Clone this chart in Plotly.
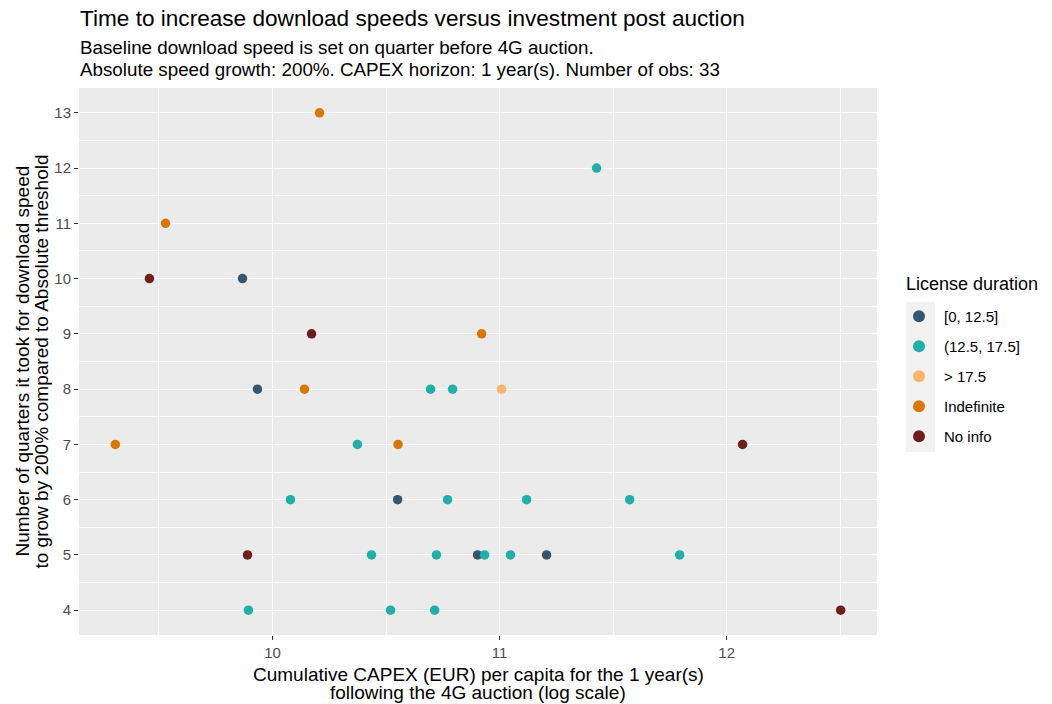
import plotly.graph_objects as go

# ---- data (log CAPEX per capita, quarters to reach threshold) ----
groups = ["[0, 12.5]", "(12.5, 17.5]", "> 17.5", "Indefinite", "No info"]
colors = ["#36566F", "#21AFAA", "#F8B56B", "#D97700", "#6E1F1B"]

x_g1 = [9.868, 9.934, 10.551, 10.903, 11.207]
y_g1 = [10, 8, 6, 5, 5]

x_g2 = [9.894, 10.079, 10.374, 10.436, 10.520, 10.696, 10.714, 10.722,
        10.771, 10.793, 10.934, 11.048, 11.119, 11.427, 11.573, 11.793]
y_g2 = [4, 6, 7, 5, 4, 8, 4, 5, 6, 8, 5, 5, 6, 12, 6, 5]

x_g3 = [11.009]
y_g3 = [8]

x_g4 = [9.308, 9.529, 10.141, 10.207, 10.553, 10.921]
y_g4 = [7, 11, 8, 13, 7, 9]

x_g5 = [9.458, 9.890, 10.172, 12.070, 12.502]
y_g5 = [10, 5, 9, 7, 4]

xs = [x_g1, x_g2, x_g3, x_g4, x_g5]
ys = [y_g1, y_g2, y_g3, y_g4, y_g5]

x_ticks = [10, 11, 12]
y_ticks = [4, 5, 6, 7, 8, 9, 10, 11, 12, 13]

FONT = "Liberation Sans, Arial, Helvetica, sans-serif"

fig = go.Figure()
for name, col, xv, yv in zip(groups, colors, xs, ys):
    fig.add_trace(go.Scatter(
        x=xv, y=yv, mode="markers", name=name, legendgroup=name,
        marker=dict(color=col, size=9.5, line=dict(width=0)),
    ))

# page body has an 8px margin -> figure origin sits at (8, 8) on screen
OFF = 8
W, H = 1044, 696
PL, PR, PT, PB = 79, 877, 88, 635       # panel edges in screen pixels
L, T = PL - OFF, PT - OFF
R, B = W - (PR - OFF), H - (PB - OFF)
pw, ph = PR - PL, PB - PT

def sx(p):   # screen x pixel -> paper
    return (p - PL) / pw

def sy(p):   # screen y pixel -> paper
    return (PB - p) / ph

axis_common = dict(
    showgrid=True, gridcolor="white", gridwidth=1.1,
    zeroline=False, showline=False,
    ticks="outside", ticklen=4, tickwidth=1, tickcolor="#333333",
    tickfont=dict(family=FONT, size=15, color="#4D4D4D"),
    minor=dict(showgrid=True, gridcolor="white", gridwidth=0.5, ticks=""),
)

fig.update_xaxes(range=[9.148, 12.662], tickvals=x_ticks,
                 ticktext=[str(v) for v in x_ticks],
                 minor_dtick=0.5, minor_tick0=0, **axis_common)
fig.update_yaxes(range=[3.55, 13.45], tickvals=y_ticks,
                 ticktext=[str(v) for v in y_ticks],
                 minor_dtick=0.5, minor_tick0=0.5, **axis_common)

annotations = [
    dict(text="Time to increase download speeds versus investment post auction",
         x=sx(78), y=sy(19), xanchor="left", yanchor="middle",
         font=dict(family=FONT, size=22.6, color="black")),
    dict(text="Baseline download speed is set on quarter before 4G auction.",
         x=sx(78), y=sy(48), xanchor="left", yanchor="middle",
         font=dict(family=FONT, size=18.8, color="black")),
    dict(text="Absolute speed growth: 200%. CAPEX horizon: 1 year(s). Number of obs: 33",
         x=sx(78), y=sy(69), xanchor="left", yanchor="middle",
         font=dict(family=FONT, size=18.8, color="black")),
    dict(text="Cumulative CAPEX (EUR) per capita for the 1 year(s)",
         x=0.5, y=sy(674), xanchor="center", yanchor="middle",
         font=dict(family=FONT, size=19, color="black")),
    dict(text="following the 4G auction (log scale)",
         x=0.5, y=sy(692), xanchor="center", yanchor="middle",
         font=dict(family=FONT, size=19, color="black")),
    dict(text="Number of quarters it took for download speed",
         x=sx(22), y=0.5, xanchor="center", yanchor="middle", textangle=-90,
         font=dict(family=FONT, size=19, color="black")),
    dict(text="to grow by 200% compared to Absolute threshold",
         x=sx(41), y=0.5, xanchor="center", yanchor="middle", textangle=-90,
         font=dict(family=FONT, size=19, color="black")),
    dict(text="License duration",
         x=sx(904), y=sy(284), xanchor="left", yanchor="middle",
         font=dict(family=FONT, size=18, color="black")),
]
for a in annotations:
    a.update(xref="paper", yref="paper", showarrow=False)

fig.update_layout(
    width=W, height=H,
    margin=dict(l=L, r=R, t=T, b=B, pad=0),
    paper_bgcolor="white", plot_bgcolor="#EBEBEB",
    annotations=annotations,
    shapes=[dict(type="rect", xref="paper", yref="paper",
                 x0=sx(906), x1=sx(935), y0=sy(452), y1=sy(302),
                 fillcolor="#F2F2F2", line=dict(width=0), layer="below")],
    legend=dict(
        font=dict(family=FONT, size=15, color="black"),
        x=sx(894), y=sy(300), xanchor="left", yanchor="top",
        bgcolor="rgba(0,0,0,0)", tracegroupgap=7.5, itemwidth=40,
        itemsizing="constant",
    ),
)

fig.write_html("out.html")
